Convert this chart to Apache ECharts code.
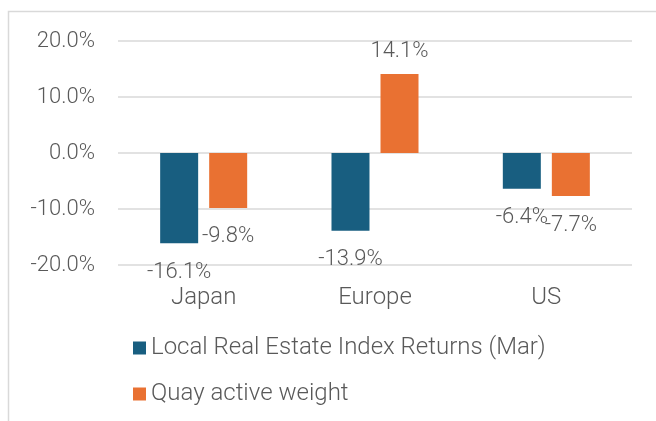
<!DOCTYPE html>
<html>
<head>
<meta charset="utf-8">
<script src="https://cdn.jsdelivr.net/npm/echarts@6/dist/echarts.min.js"></script>
<style>
  html, body { margin: 0; padding: 0; background: #fff; }
  #chart { width: 656px; height: 421px; }
</style>
</head>
<body>
<div id="chart"></div>
<script>
const regions = ['Japan', 'Europe', 'US'];
const indexReturns = [-16.1, -13.9, -6.4];
const activeWeight = [-9.8, 14.1, -7.7];
const seriesNames = ['Local Real Estate Index Returns (Mar)', 'Quay active weight'];

const textColor = '#595959';
const font = 'Roboto';

// negative bars get their label underneath, like Excel's "outside end"
function toItems(values) {
  return values.map(v => ({
    value: v,
    label: v < 0 ? { position: 'bottom', distance: 18 } : { position: 'top', distance: 12 }
  }));
}

const chart = echarts.init(document.getElementById('chart'));
chart.setOption({
  animation: false,
  textStyle: { fontFamily: font, fontWeight: 300, color: textColor },
  graphic: [{
    type: 'polyline',
    shape: { points: [[8.5, 421], [8.5, 11.5], [656, 11.5]] },
    style: { stroke: '#d9d9d9', lineWidth: 1.5, fill: null }
  }],
  grid: { left: 118, right: 24, top: 41, bottom: 156 },
  legend: {
    orient: 'vertical',
    left: 128,
    top: 331,
    itemWidth: 13,
    itemHeight: 13,
    itemGap: 22,
    icon: 'rect',
    textStyle: { fontFamily: font, fontWeight: 300, fontSize: 24, color: textColor },
    data: seriesNames
  },
  xAxis: {
    type: 'category',
    data: regions,
    axisLine: { show: false, onZero: false },
    axisTick: { show: false },
    axisLabel: { fontFamily: font, fontWeight: 300, fontSize: 24, color: textColor, margin: 21 }
  },
  yAxis: {
    type: 'value',
    min: -20,
    max: 20,
    interval: 10,
    axisLine: { show: false },
    axisTick: { show: false },
    splitLine: { lineStyle: { color: '#d9d9d9', width: 1.5 } },
    axisLabel: {
      fontFamily: font, fontWeight: 300, fontSize: 22, color: textColor, margin: 23,
      formatter: v => v.toFixed(1) + '%'
    }
  },
  series: [
    {
      name: seriesNames[0],
      type: 'bar',
      barWidth: 38,
      barGap: '29%',
      data: toItems(indexReturns),
      itemStyle: { color: '#185E80' },
      label: {
        show: true, fontFamily: font, fontWeight: 300, fontSize: 22, color: textColor,
        formatter: p => p.value.toFixed(1) + '%'
      }
    },
    {
      name: seriesNames[1],
      type: 'bar',
      barWidth: 38,
      data: toItems(activeWeight),
      itemStyle: { color: '#E97132' },
      label: {
        show: true, fontFamily: font, fontWeight: 300, fontSize: 22, color: textColor,
        formatter: p => p.value.toFixed(1) + '%'
      }
    }
  ]
});
</script>
</body>
</html>
